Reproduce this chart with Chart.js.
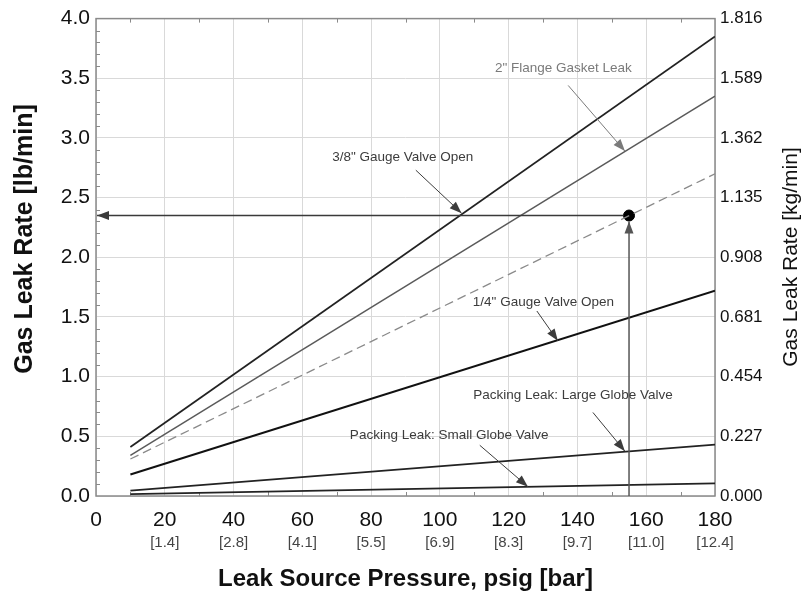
<!DOCTYPE html>
<html>
<head>
<meta charset="utf-8">
<script src="https://cdn.jsdelivr.net/npm/chart.js@4.4.1/dist/chart.umd.min.js"></script>
<style>
  html, body { margin: 0; padding: 0; background: #fff; }
  canvas { display: block; }
</style>
</head>
<body>
<canvas id="leakChart" width="801" height="596"></canvas>
<script>
// leak source pressure, psig (each curve runs from 10 to 180)
const pressure = [10, 180];

// gas leak rate, lb/min
const gaugeValve38 = [0.41, 3.85];
const flangeGasket2 = [0.34, 3.35];
const exampleCase = [0.31, 2.70];
const gaugeValve14 = [0.18, 1.72];
const largeGlobeValve = [0.045, 0.43];
const smallGlobeValve = [0.015, 0.105];

// worked example read-off point
const examplePressure = [155];
const exampleRate = [2.35];

// tick labels
const barLabels = ['', '[1.4]', '[2.8]', '[4.1]', '[5.5]', '[6.9]', '[8.3]', '[9.7]', '[11.0]', '[12.4]'];
const kgLabels = ['0.000', '0.227', '0.454', '0.681', '0.908', '1.135', '1.362', '1.589', '1.816'];

const calloutLabels = [
    '2" Flange Gasket Leak',
    '3/8" Gauge Valve Open',
    '1/4" Gauge Valve Open',
    'Packing Leak: Large Globe Valve',
    'Packing Leak: Small Globe Valve'
];

const FONT = 'Arial, "Liberation Sans", sans-serif';

function toPoints(ys) {
    return ys.map((y, i) => ({ x: pressure[i], y: y }));
}

function line(label, ys, color, width, dash) {
    return {
        label: label,
        data: toPoints(ys),
        borderColor: color,
        borderWidth: width,
        borderDash: dash || [],
        pointRadius: 0,
        fill: false,
        tension: 0
    };
}

function arrowHead(ctx, x1, y1, x2, y2, len, half) {
    const a = Math.atan2(y2 - y1, x2 - x1);
    ctx.beginPath();
    ctx.moveTo(x2, y2);
    ctx.lineTo(x2 - len * Math.cos(a) + half * Math.sin(a), y2 - len * Math.sin(a) - half * Math.cos(a));
    ctx.lineTo(x2 - len * Math.cos(a) - half * Math.sin(a), y2 - len * Math.sin(a) + half * Math.cos(a));
    ctx.closePath();
    ctx.fill();
}

function arrow(ctx, x1, y1, x2, y2, color, width) {
    ctx.strokeStyle = color;
    ctx.fillStyle = color;
    ctx.lineWidth = width;
    ctx.beginPath();
    ctx.moveTo(x1, y1);
    ctx.lineTo(x2, y2);
    ctx.stroke();
    arrowHead(ctx, x1, y1, x2, y2, 12, 4.5);
}

// frame, minor ticks, read-off arrows, callouts and the axis titles
const decorations = {
    id: 'decorations',
    beforeDatasetsDraw(chart) {
        const { ctx, chartArea: a, scales } = chart;
        const xs = scales.x, ys = scales.y;
        ctx.save();
        ctx.strokeStyle = '#8a8a8a';
        ctx.lineWidth = 1;
        for (let v = 1; v < 40; v++) {
            if (v % 5 === 0) continue;
            const py = Math.round(ys.getPixelForValue(v / 10)) + 0.5;
            ctx.beginPath();
            ctx.moveTo(a.left, py);
            ctx.lineTo(a.left + 4, py);
            ctx.stroke();
        }
        for (let v = 10; v < 180; v += 20) {
            const px = Math.round(xs.getPixelForValue(v)) + 0.5;
            ctx.beginPath();
            ctx.moveTo(px, a.top);
            ctx.lineTo(px, a.top + 4);
            ctx.moveTo(px, a.bottom);
            ctx.lineTo(px, a.bottom - 4);
            ctx.stroke();
        }
        ctx.strokeStyle = '#8a8a8a';
        ctx.lineWidth = 1.5;
        ctx.strokeRect(a.left, a.top, a.right - a.left, a.bottom - a.top);
        ctx.restore();
    },
    afterDatasetsDraw(chart) {
        const { ctx, chartArea: a, scales } = chart;
        const X = v => scales.x.getPixelForValue(v);
        const Y = v => scales.y.getPixelForValue(v);
        ctx.save();

        // read-off arrows from the worked example
        const ex = X(examplePressure[0]), ey = Y(exampleRate[0]);
        arrow(ctx, ex - 6, ey, a.left + 1, ey, '#3a3a3a', 1.5);
        arrow(ctx, ex, a.bottom, ex, ey + 6, '#555', 1.5);

        // callouts
        const spots = [
            { t: [135.9, 3.58], from: [137.3, 3.44], to: [153.8, 2.89], c: '#7a7a7a' },
            { t: [89.2, 2.84], from: [93.0, 2.73], to: [106.3, 2.37], c: '#3c3c3c' },
            { t: [130.1, 1.62], from: [128.2, 1.55], to: [134.3, 1.30], c: '#3c3c3c' },
            { t: [138.7, 0.84], from: [144.5, 0.70], to: [153.8, 0.375], c: '#3c3c3c' },
            { t: [102.7, 0.51], from: [111.6, 0.425], to: [125.6, 0.078], c: '#3c3c3c' }
        ];
        ctx.font = '13.5px ' + FONT;
        ctx.textAlign = 'center';
        ctx.textBaseline = 'middle';
        spots.forEach((s, i) => {
            ctx.fillStyle = s.c;
            ctx.fillText(calloutLabels[i], X(s.t[0]), Y(s.t[1]));
            arrow(ctx, X(s.from[0]), Y(s.from[1]), X(s.to[0]), Y(s.to[1]), s.c, 1);
        });

        // axis titles
        ctx.fillStyle = '#111';
        ctx.font = 'bold 25px ' + FONT;
        ctx.translate(25, 239);
        ctx.rotate(-Math.PI / 2);
        ctx.fillText('Gas Leak Rate [lb/min]', 0, 0);
        ctx.setTransform(1, 0, 0, 1, 0, 0);
        ctx.font = '21px ' + FONT;
        ctx.translate(791, 257);
        ctx.rotate(-Math.PI / 2);
        ctx.fillText('Gas Leak Rate [kg/min]', 0, 0);
        ctx.restore();
    }
};

const ctx = document.getElementById('leakChart').getContext('2d');
new Chart(ctx, {
    type: 'line',
    data: {
        datasets: [
            line(calloutLabels[1], gaugeValve38, '#222', 1.8),
            line(calloutLabels[0], flangeGasket2, '#5a5a5a', 1.5),
            line('Example', exampleCase, '#8a8a8a', 1.3, [9, 5]),
            line(calloutLabels[2], gaugeValve14, '#111', 2),
            line(calloutLabels[3], largeGlobeValve, '#222', 1.8),
            line(calloutLabels[4], smallGlobeValve, '#222', 1.8),
            {
                label: 'Read-off point',
                data: examplePressure.map((p, i) => ({ x: p, y: exampleRate[i] })),
                showLine: false,
                pointRadius: 5.5,
                pointBackgroundColor: '#000',
                pointBorderColor: '#000'
            }
        ]
    },
    options: {
        responsive: false,
        animation: false,
        layout: { padding: { top: 14, left: 0, right: 0, bottom: 0 } },
        plugins: {
            legend: { display: false },
            tooltip: { enabled: false }
        },
        scales: {
            x: {
                type: 'linear',
                position: 'bottom',
                weight: 0,
                min: 0,
                max: 180,
                ticks: { stepSize: 20, padding: 12, color: '#111', font: { family: FONT, size: 21 } },
                grid: { color: '#d9d9d9', drawTicks: false },
                border: { display: false },
                afterFit: s => { s.height = 36; }
            },
            x2: {
                type: 'linear',
                position: 'bottom',
                weight: 1,
                min: 0,
                max: 180,
                ticks: {
                    stepSize: 20,
                    padding: 2,
                    color: '#444',
                    font: { family: FONT, size: 15 },
                    callback: (v, i) => barLabels[i]
                },
                grid: { display: false, drawTicks: false },
                border: { display: false },
                title: {
                    display: true,
                    text: 'Leak Source Pressure, psig [bar]',
                    color: '#111',
                    font: { family: FONT, size: 24, weight: 'bold' },
                    padding: { top: 0, bottom: 2 }
                },
                afterFit: s => { s.height = 64; }
            },
            y: {
                position: 'left',
                min: 0,
                max: 4,
                ticks: {
                    stepSize: 0.5,
                    padding: 6,
                    color: '#111',
                    font: { family: FONT, size: 21 },
                    callback: v => v.toFixed(1)
                },
                grid: { color: '#d9d9d9', drawTicks: false },
                border: { display: false },
                afterFit: s => { s.width = 96; }
            },
            y2: {
                position: 'right',
                min: 0,
                max: 4,
                ticks: {
                    stepSize: 0.5,
                    padding: 5,
                    color: '#111',
                    font: { family: FONT, size: 17 },
                    callback: (v, i) => kgLabels[i]
                },
                grid: { drawOnChartArea: false, drawTicks: false },
                border: { display: false },
                afterFit: s => { s.width = 86; }
            }
        }
    },
    plugins: [decorations]
});
</script>
</body>
</html>
